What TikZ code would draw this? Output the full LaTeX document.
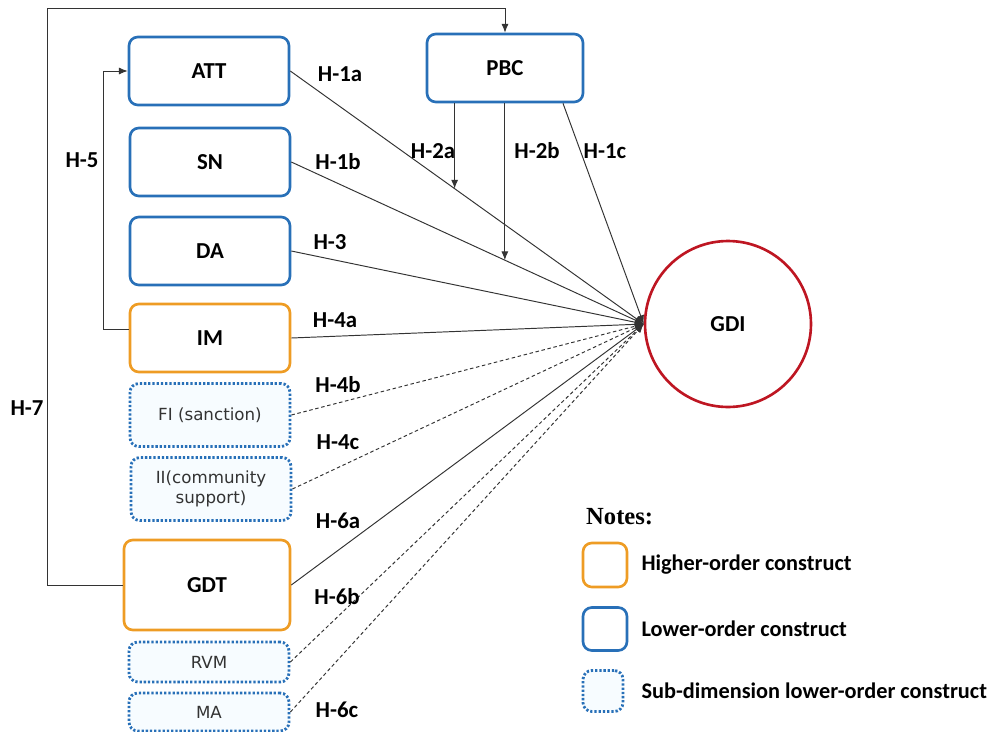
\documentclass[tikz,border=0pt]{standalone}
\usepackage{fontspec}
\setmainfont{Carlito}
\newfontfamily\subfont{DejaVu Sans}
\newfontfamily\notefont{Liberation Serif}
\usetikzlibrary{arrows.meta,positioning}
\definecolor{loblue}{RGB}{40,112,184}
\definecolor{hiorange}{RGB}{238,156,36}
\definecolor{gdired}{RGB}{190,22,34}
\definecolor{subfill}{RGB}{247,252,255}

\begin{document}
\begin{tikzpicture}[
  x=0.02cm,y=-0.02cm,
  node distance=0.14cm,
  box/.style={draw=loblue,line width=1.5pt,rounded corners=5pt,fill=white,
              minimum width=3.2cm,minimum height=1.36cm,
              font=\bfseries\fontsize{13}{15}\selectfont},
  hibox/.style={box,draw=hiorange},
  subbox/.style={draw=loblue,line width=1.6pt,dash pattern=on 1.3pt off 1.1pt,
                 rounded corners=5pt,fill=subfill,minimum width=3.2cm,
                 minimum height=1.26cm,align=center,text=black!80,
                 font=\subfont\fontsize{9.5}{11.5}\selectfont},
  lab/.style={font=\bfseries\fontsize{13}{15}\selectfont},
  arr/.style={-{Latex[length=5pt,width=4pt]},line width=0.55pt,black!80},
  darr/.style={arr,dash pattern=on 2pt off 1.5pt}
]
  \useasboundingbox (0,0) rectangle (998,731);

  \node[box] (att) at (209,71) {ATT};
  \node[box,minimum width=3.12cm] (pbc) at (505,68) {PBC};
  \node[box] (sn) at (210,162) {SN};
  \node[box] (da) at (210,251) {DA};
  \node[hibox] (im) at (210,338) {IM};
  \node[subbox] (fi) at (210,415) {FI (sanction)};
  \node[subbox] (ii) at (211,489) {II(community\\support)};
  \node[hibox,minimum width=3.32cm,minimum height=1.8cm] (gdt) at (207,585) {GDT};
  \node[subbox,minimum height=0.8cm] (rvm) at (209,662) {RVM};
  \node[subbox,minimum height=0.76cm] (ma) at (209,712) {MA};
  \node[circle,draw=gdired,line width=1.5pt,minimum size=3.32cm,
        font=\bfseries\fontsize{13}{15}\selectfont] (gdi) at (728,324) {GDI};

  \draw[arr] (att.east) -- coordinate[pos=0.465] (m2a) (gdi.west);
  \draw[arr] (sn.east) -- coordinate[pos=0.606] (m2b) (gdi.west);
  \draw[arr] (da.east) -- (gdi.west);
  \draw[arr] (im.east) -- (gdi.west);
  \draw[darr] (fi.east) -- (gdi.west);
  \draw[darr] (ii.east) -- (gdi.west);
  \draw[arr] (gdt.east) -- (gdi.west);
  \draw[darr] (rvm.east) -- (gdi.west);
  \draw[darr] (ma.east) -- (gdi.west);
  \draw[arr] ([xshift=1.16cm]pbc.south) -- (gdi.west);
  \draw[arr] (m2a |- pbc.south) -- (m2a);
  \draw[arr] (m2b |- pbc.south) -- (m2b);
  \draw[arr] ([yshift=0.18cm]im.west) -- ++(-25,0) |- (att.west);
  \draw[arr] (gdt.west) -| (47,8) -| (pbc.north);

  \node[lab] (h1a) at (340,74) {H-1a};
  \node[lab] (h1b) at (338,162) {H-1b};
  \node[lab] (h3) at (330,242) {H-3};
  \node[lab] (h4a) at (335,320) {H-4a};
  \node[lab] (h4b) at (338,385) {H-4b};
  \node[lab] (h4c) at (338,442) {H-4c};
  \node[lab] (h6a) at (338,521) {H-6a};
  \node[lab] (h6b) at (337,597) {H-6b};
  \node[lab] (h6c) at (337,710) {H-6c};
  \node[lab] (h2a) at (433,151) {H-2a};
  \node[lab] (h2b) at (537,151) {H-2b};
  \node[lab] (h1c) at (605,151) {H-1c};
  \node[lab] (h5) at (82,160) {H-5};
  \node[lab] (h7) at (27,408) {H-7};

  \node[anchor=west,font=\notefont\bfseries\fontsize{14}{16}\selectfont] (notes) at (580,517) {Notes:};
  \node[hibox,minimum width=0.88cm,minimum height=0.88cm] (lghi) at (605,565) {};
  \node[box,minimum width=0.88cm,minimum height=0.86cm] (lglo) at (605,629) {};
  \node[subbox,minimum width=0.8cm,minimum height=0.82cm] (lgsub) at (603,691) {};
  \node[lab,font=\bfseries\fontsize{12.7}{15}\selectfont,right=of lghi] (thi) {Higher-order construct};
  \node[lab,font=\bfseries\fontsize{12.7}{15}\selectfont,right=of lglo] (tlo) {Lower-order construct};
  \node[lab,font=\bfseries\fontsize{12.7}{15}\selectfont,right=0.22cm of lgsub] (tsub) {Sub-dimension lower-order construct};
\end{tikzpicture}
\end{document}
